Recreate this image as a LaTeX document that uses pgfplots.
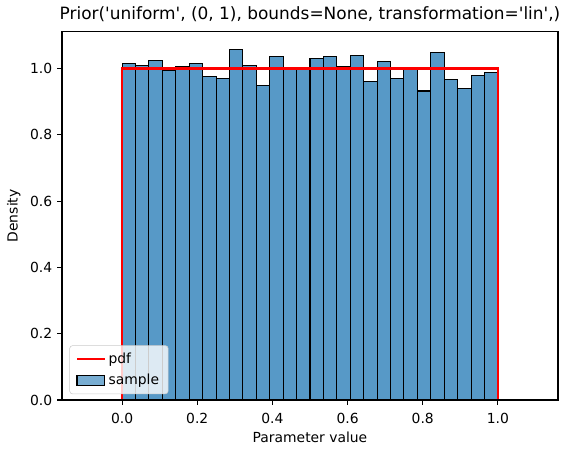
\documentclass[border=0pt]{standalone}
\usepackage{pgfplots}
\pgfplotsset{compat=1.18}
\usepackage{fontspec}
\setmainfont{DejaVu Sans}
\newfontfamily\plainfont{DejaVu Sans}
\definecolor{histblue}{HTML}{5799C7}
\begin{document}
\begin{tikzpicture}
\begin{axis}[
  at={(0,0)}, anchor=south west,
  scale only axis,
  width=357.1pt, height=265.2pt,
  xmin=-0.16, xmax=1.16,
  ymin=0, ymax=1.111,
  xtick={0,0.2,0.4,0.6,0.8,1.0},
  ytick={0,0.2,0.4,0.6,0.8,1.0},
  tick align=outside,
  major tick length=3.5pt,
  tick style={black, line width=0.8pt},
  axis line style={line width=0.8pt},
  axis on top,
  xtick pos=bottom, ytick pos=left,
  /pgf/number format/assume math mode=true,
  xticklabel style={yshift=-2.5pt, /pgf/number format/.cd, fixed, fixed zerofill, precision=1},
  yticklabel style={/pgf/number format/.cd, fixed, fixed zerofill, precision=1},
  tick label style={font=\fontsize{10}{12}\selectfont},
  label style={font=\fontsize{10}{12}\selectfont},
  xlabel={Parameter value},
  xlabel style={yshift=1pt},
  ylabel={Density},
  title={\plainfont Prior('uniform', (0, 1), bounds=None, transformation='lin',)},
  title style={font=\fontsize{12.2}{14}\selectfont, yshift=-2.5pt},
  legend cell align=left,
  legend style={at={(0.015,0.016)}, anchor=south west, fill=white, fill opacity=0.8, text opacity=1, draw=black!20, rounded corners=2pt, font=\fontsize{10}{12}\selectfont, row sep=2.5pt, inner xsep=4.5pt, inner ysep=3pt},
]
\addplot[ybar interval, fill=histblue, draw=black, line width=0.75pt, forget plot] coordinates {
(0.000000,1.015) (0.035714,1.010) (0.071429,1.025) (0.107143,0.995)
(0.142857,1.005) (0.178571,1.015) (0.214286,0.977) (0.250000,0.971)
(0.285714,1.058) (0.321429,1.008) (0.357143,0.950) (0.392857,1.037)
(0.428571,1.003) (0.464286,1.003) (0.500000,1.031) (0.535714,1.035)
(0.571429,1.005) (0.607143,1.040) (0.642857,0.962) (0.678571,1.021)
(0.714286,0.971) (0.750000,1.000) (0.785714,0.932) (0.821429,1.048)
(0.857143,0.968) (0.892857,0.941) (0.928571,0.980) (0.964286,0.988)
(1.000000,0.988)
};
\addplot[red, line width=1.5pt, legend image code/.code={\draw[red, line width=1.5pt, sharp corners] (0pt,0pt) -- (20pt,0pt);}] coordinates {
(-0.1,0) (0,0) (0,1) (1,1) (1,0) (1.1,0)
};
\addlegendentry{pdf}
\addlegendimage{legend image code/.code={\draw[fill=histblue, draw=black, line width=0.75pt, sharp corners] (0pt,-3.5pt) rectangle (20pt,3.5pt);}}
\addlegendentry{sample}
\end{axis}
\pgfresetboundingbox
\useasboundingbox (-44.64pt,-38.88pt) rectangle (366.48pt,288pt);
\end{tikzpicture}
\end{document}
